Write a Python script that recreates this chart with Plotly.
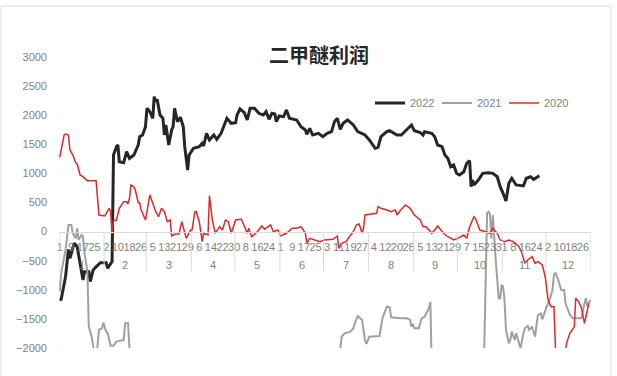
import plotly.graph_objects as go

# ---- data: day of year (1..366) and profit value ----
d2022 = [1, 2, 5, 7, 8, 11, 13, 15, 17, 18, 21, 22, 24, 26, 29, 33, 34, 37, 38, 40, 41, 42, 45, 47, 49, 52,
         54, 55, 56, 58, 60, 61, 63, 65, 66, 67, 68, 70, 72, 73, 74, 75, 76, 78, 79, 80, 82, 84, 86, 87, 89,
         90, 93, 97, 99, 100, 102, 104, 107, 109, 112, 116, 119, 122, 123, 125, 128, 130, 132, 135, 138, 141,
         143, 145, 147, 149, 150, 152, 155, 157, 159, 164, 167, 170, 171, 173, 175, 179, 182, 185, 188, 190,
         192, 194, 196, 199, 203, 206, 211, 214, 218, 220, 222, 226, 228, 233, 236, 240, 243, 245, 249, 251,
         252, 257, 259, 261, 264, 266, 268, 270, 272, 274, 276, 279, 281, 283, 284, 285, 286, 289, 292, 296,
         299, 302, 304, 306, 308, 310, 312, 315, 320, 322, 325, 327, 330, 331]
v2022 = [-1180, -1165, -775, -305, -460, -200, -260, -545, -830, -690, -690, -860, -660, -605, -535, -535, -630,
         -515, 1316, 1459, 1488, 1201, 1184, 1373, 1259, 1316, 1431, 1488, 1631, 1660, 1802, 2118, 2060, 1947,
         2318, 2232, 2273, 2003, 1947, 1660, 1832, 1603, 1488, 1746, 1802, 2118, 1889, 1964, 1802, 1459, 1058,
         1316, 1431, 1459, 1517, 1471, 1689, 1574, 1660, 1586, 1689, 1947, 1861, 1871, 2003, 2107, 2043, 1918,
         2118, 2118, 2033, 2003, 2060, 1930, 2033, 2021, 1889, 1986, 1975, 2090, 1947, 1918, 1802, 1746, 1672,
         1775, 1660, 1689, 1631, 1689, 1717, 1889, 1947, 1758, 1861, 1918, 1832, 1717, 1660, 1574, 1431, 1448,
         1631, 1717, 1734, 1660, 1660, 1758, 1832, 1734, 1700, 1660, 1717, 1689, 1631, 1488, 1459, 1316, 1259,
         1115, 1144, 1001, 973, 1029, 1174, 1218, 772, 887, 801, 887, 1001, 1012, 1001, 943, 772, 658, 526, 830,
         916, 801, 784, 916, 943, 899, 955, 961]

d2021 = [1, 2, 5, 7, 9, 10, 12, 13, 14, 16, 17, 18, 20, 21, 23, 24, 26, 28, 30, 31, 33, 34, 36, 38, 40, 45, 46,
         48, 49, 52, 192, 195, 197, 201, 203, 205, 206, 209, 211, 212, 214, 221, 223, 226, 228, 229, 235, 240,
         242, 243, 244, 245, 248, 250, 252, 255, 256, 257, 260, 291, 293, 295, 296, 297, 298, 299, 301, 303,
         304, 305, 306, 307, 308, 310, 311, 312, 314, 315, 317, 318, 320, 321, 323, 324, 326, 328, 329, 330,
         332, 333, 336, 338, 340, 341, 342, 344, 346, 348, 349, 351, 352, 354, 356, 358, 360, 361, 363, 364, 366]
v2021 = [-1032, -716, -316, 113, 113, -29, -115, 57, -144, -58, -88, -373, -660, -1634, -1806, -2005, -2250,
         -1690, -1661, -1565, -1720, -1747, -1960, -1960, -1890, -1862, -1576, -1576, -2005, -2400, -2400, -1806,
         -1747, -1720, -1661, -1507, -1450, -1519, -1862, -1931, -1806, -1794, -1490, -1290, -1301, -1473, -1490,
         -1490, -1519, -1634, -1588, -1661, -1661, -1490, -1462, -1318, -1205, -2400, -2400, -2400, -2100, 314,
         342, 300, -120, 285, -500, -1146, -1146, -917, -946, -1175, -1690, -1919, -1862, -1720, -1862, -1747,
         -1919, -2005, -1747, -1661, -1622, -1690, -1634, -1806, -1605, -1433, -1404, -1507, -1290, -1175, -1003,
         -746, -706, -832, -1003, -1003, -1232, -1347, -1433, -1490, -1490, -1490, -1490, -1347, -1146, -1290,
         -1175]

d2020 = [1, 4, 5, 7, 8, 10, 12, 13, 15, 17, 20, 26, 28, 32, 35, 36, 37, 38, 40, 42, 45, 47, 48, 49, 50, 52, 53,
         55, 56, 57, 60, 63, 65, 67, 69, 71, 73, 75, 77, 78, 80, 83, 85, 86, 88, 91, 92, 94, 95, 97, 99, 100,
         103, 104, 106, 108, 111, 113, 115, 117, 119, 122, 126, 130, 131, 133, 137, 140, 142, 146, 148, 151,
         153, 157, 161, 164, 167, 170, 171, 173, 177, 180, 183, 189, 192, 193, 195, 198, 200, 203, 205, 207,
         209, 210, 211, 216, 219, 220, 222, 226, 229, 232, 233, 236, 239, 242, 245, 249, 251, 253, 257, 259,
         261, 265, 268, 272, 275, 279, 281, 283, 286, 287, 290, 294, 297, 299, 302, 304, 307, 310, 313, 317,
         319, 321, 323, 326, 328, 330, 333, 335, 337, 339, 341, 342, 345, 348, 350, 352, 354, 355, 356, 358,
         360, 362, 365]
v2020 = [1276, 1660, 1677, 1660, 1402, 1316, 1184, 1162, 973, 943, 875, 875, 285, 268, 400, 342, -46, 187, 199,
         400, 514, 514, 474, 572, 801, 772, 715, 497, 497, 371, 199, 629, 486, 342, 256, 400, 342, 170, 199,
         -76, -46, -41, 170, 84, -115, 27, 27, 342, 342, 170, -173, -29, -58, 617, 199, -29, 84, 27, 199, 170,
         -29, 199, 211, -29, 57, -88, -2, 96, 40, 113, -2, 27, -76, -29, 57, 57, 84, -29, -201, -115, -156,
         -173, -144, -132, -76, -287, -201, -173, -98, -2, 113, 131, -29, 57, 285, 302, 314, 428, 400, 371, 342,
         371, 285, 383, 457, 400, 285, 199, 84, 84, -29, 27, 96, -29, -88, -144, -115, -58, -115, 84, 256, 228,
         27, -2, -29, 57, -29, -144, -173, -144, -173, -260, -373, -545, -488, -431, -545, -517, -574, -775,
         -1175, -1290, -1290, -1978, -2400, -2150, -1890, -1747, -1661, -1634, -1146, -1205, -1318, -1576, -1232]

# ---- axis labels ----
day_tick_pos = [1, 9, 17, 25, 33, 41, 49, 57, 65, 73, 81, 89, 97, 105, 113, 121, 129, 137, 145, 153, 161, 169,
                177, 185, 193, 201, 209, 217, 225, 233, 241, 249, 257, 265, 273, 281, 289, 297, 305, 313, 321,
                329, 337, 345, 353, 361]
day_tick_text = ["1", "9", "17", "25", "2", "10", "18", "26", "5", "13", "21", "29", "6", "14", "22", "30",
                 "8", "16", "24", "1", "9", "17", "25", "3", "11", "19", "27", "4", "12", "20", "28", "5",
                 "13", "21", "29", "7", "15", "23", "31", "8", "16", "24", "2", "10", "18", "26"]
month_names = ["1", "2", "3", "4", "5", "6", "7", "8", "9", "10", "11", "12"]
month_days = [31, 29, 31, 30, 31, 30, 31, 31, 30, 31, 30, 31]

AXIS_GREY = "#7f7f7f"
LINE_GREY = "#d9d9d9"
FONT = "Liberation Sans, Arial, sans-serif"

fig = go.Figure()
fig.add_trace(go.Scatter(x=d2022, y=v2022, mode="lines", name="2022",
                         line=dict(color="#262626", width=3)))
fig.add_trace(go.Scatter(x=d2021, y=v2021, mode="lines", name="2021",
                         line=dict(color="#a0a0a0", width=2)))
fig.add_trace(go.Scatter(x=d2020, y=v2020, mode="lines", name="2020",
                         line=dict(color="#dc2a2a", width=1.5)))

# month group labels and separators under the day labels
shapes = []
annotations = []
start = 0.5
edges = [start]
for name, n in zip(month_names, month_days):
    annotations.append(dict(x=start + n / 2, y=0, xref="x", yref="y", text=name, showarrow=False,
                            yanchor="middle", yshift=-33, font=dict(size=11, color=AXIS_GREY, family=FONT)))
    start += n
    edges.append(start)
for e in edges:
    shapes.append(dict(type="line", xref="x", yref="y", ysizemode="pixel", yanchor=0,
                       x0=e, x1=e, y0=0, y1=-40, line=dict(color=LINE_GREY, width=1)))

# outer chart border
shapes.append(dict(type="rect", xref="paper", yref="paper",
                   x0=(1 - 59) / 532, x1=(611 - 59) / 532,
                   y0=(348 - 390) / 291, y1=(348 - 6) / 291,
                   line=dict(color=LINE_GREY, width=1), fillcolor="rgba(0,0,0,0)", layer="below"))

fig.update_layout(
    width=617, height=376,
    margin=dict(l=59, r=26, t=57, b=28),
    paper_bgcolor="white", plot_bgcolor="white",
    title=dict(text="二甲醚利润", x=(319 - 59) / 532, xref="paper", xanchor="center",
               y=1 - 56 / 376, yanchor="middle",
               font=dict(family="Noto Sans CJK SC", size=20, color="#262626", weight="bold")),
    legend=dict(orientation="h", x=(370 - 59) / 532, xanchor="left", y=(348 - 103) / 291, yanchor="middle",
                font=dict(size=11, color=AXIS_GREY, family=FONT), entrywidth=22,
                bgcolor="rgba(0,0,0,0)"),
    showlegend=True,
    shapes=shapes,
    annotations=annotations,
    xaxis=dict(range=[0.5, 366.5], anchor="free", position=0.4, showgrid=False, zeroline=False,
               showline=True, linecolor=LINE_GREY, linewidth=1,
               tickmode="array", tickvals=day_tick_pos, ticktext=day_tick_text, ticks="",
               tickangle=0, ticklabelstandoff=5,
               tickfont=dict(size=11, color=AXIS_GREY, family=FONT)),
    yaxis=dict(range=[-2000, 3000], dtick=500, tick0=0, showgrid=False, zeroline=False, showline=False,
               ticks="", ticklabelstandoff=11, tickfont=dict(size=11, color=AXIS_GREY, family=FONT)),
)

fig.write_html("out.html")
